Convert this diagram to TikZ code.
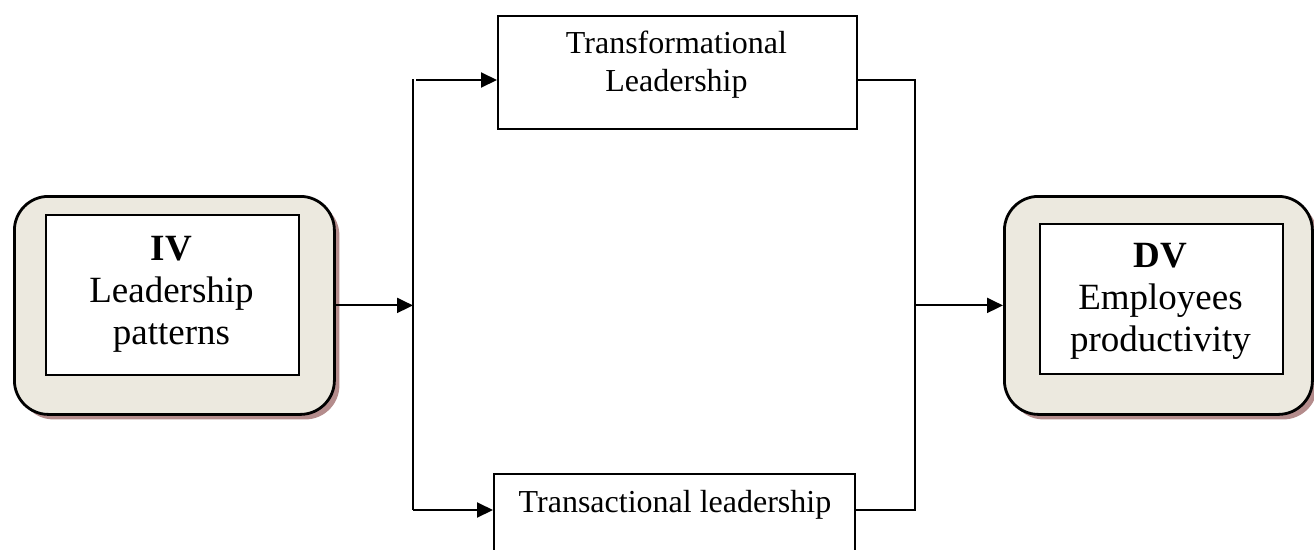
\documentclass[tikz,border=0pt]{standalone}
\usepackage{fontspec}
\setmainfont{Liberation Serif}
\usetikzlibrary{arrows.meta,shadows}
\definecolor{panelfill}{HTML}{ECE9DF}
\definecolor{panelshadow}{HTML}{B48C8C}

\begin{document}
\begin{tikzpicture}[x=1pt,y=-1pt,
  panel/.style={draw=black, line width=2.8pt, fill=panelfill, rounded corners=34pt,
    anchor=north west, inner sep=0pt,
    drop shadow={shadow xshift=5pt, shadow yshift=-5pt, fill=panelshadow, opacity=1}},
  innerbox/.style={draw=black, line width=2pt, fill=white, anchor=north west, inner sep=0pt},
  stagebox/.style={draw=black, line width=2pt, fill=white, anchor=north west, inner sep=0pt},
  bigtext/.style={font=\fontsize{37}{42}\selectfont, align=center, inner sep=0pt},
  smalltext/.style={font=\fontsize{32}{38}\selectfont, align=center, inner sep=0pt},
  conn/.style={draw=black, line width=2pt},
  arr/.style={conn, -{Triangle[length=16pt,width=15pt]}}]

\useasboundingbox (0,0) rectangle (1314,549);
\clip (0,0) rectangle (1314,549);

% independent variable panel
\node[panel, minimum width=320pt, minimum height=218pt] (ivpanel) at (13,195) {};
\node[innerbox, minimum width=253pt, minimum height=160pt] (ivbox) at (45,214) {};
\node[bigtext] (ivtext) at (171.5,294) {\textbf{IV}\\Leadership\\patterns};

% dependent variable panel
\node[panel, minimum width=308pt, minimum height=218pt] (dvpanel) at (1003,195) {};
\node[innerbox, minimum width=243pt, minimum height=150pt] (dvbox) at (1039,223) {};
\node[bigtext] (dvtext) at (1160.5,301) {\textbf{DV}\\Employees\\productivity};

% leadership styles
\node[stagebox, minimum width=359pt, minimum height=113pt] (topbox) at (497,15) {};
\node[smalltext] (toptext) at (676.5,65) {Transformational\\Leadership};
\node[stagebox, minimum width=361pt, minimum height=110pt] (botbox) at (493,473) {};
\node[smalltext] (bottext) at (675,505) {Transactional leadership};

% branching connectors
\coordinate (ltop) at (413,80);
\coordinate (lbot) at (413,510);
\coordinate (rtop) at (915,80);
\coordinate (rbot) at (915,510);

\draw[arr] (ivpanel.east) -- (ivpanel.east -| ltop);
\draw[conn] ([yshift=1pt]ltop) -- (lbot);
\draw[arr] ([xshift=3pt]ltop) -- (ltop -| topbox.west);
\draw[arr] (lbot) -- (lbot -| botbox.west);

\draw[conn] (rtop -| topbox.east) -- (rtop) -- (rbot) -- (rbot -| botbox.east);
\draw[arr] (rtop |- dvpanel.west) -- (dvpanel.west);
\end{tikzpicture}
\end{document}
